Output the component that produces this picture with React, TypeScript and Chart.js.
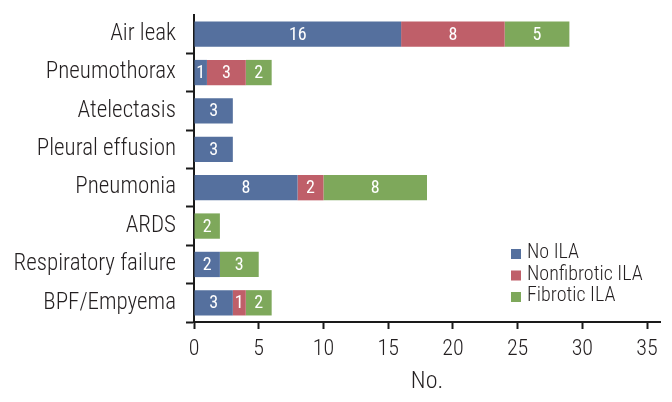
import React, { useEffect, useRef } from 'react';
import { Chart, registerables } from 'chart.js';

Chart.register(...registerables);

const categories = [
  'Air leak',
  'Pneumothorax',
  'Atelectasis',
  'Pleural effusion',
  'Pneumonia',
  'ARDS',
  'Respiratory failure',
  'BPF/Empyema',
];
const noILA = [16, 1, 3, 3, 8, 0, 2, 3];
const nonfibroticILA = [8, 3, 0, 0, 2, 0, 0, 1];
const fibroticILA = [5, 2, 0, 0, 8, 2, 3, 2];
const seriesNames = ['No ILA', 'Nonfibrotic ILA', 'Fibrotic ILA'];
const seriesColors = ['#55709e', '#bf5f69', '#7ea85b'];
const xTickValues = [0, 5, 10, 15, 20, 25, 30, 35];
const xAxisTitle = 'No.';

const FONT = "'Roboto Condensed', 'Open Sans', sans-serif";
const WEIGHT = '300';
const TEXT = '#231f20';

const barLabelPlugin = {
  id: 'barLabels',
  afterDatasetsDraw(chart: any) {
    const ctx = chart.ctx;
    ctx.save();
    ctx.fillStyle = '#ffffff';
    ctx.font = `400 18px ${FONT}`;
    ctx.textAlign = 'center';
    ctx.textBaseline = 'middle';
    chart.data.datasets.forEach((ds: any, di: number) => {
      const meta = chart.getDatasetMeta(di);
      meta.data.forEach((el: any, i: number) => {
        const v = ds.data[i];
        if (!v) return;
        const cx = (el.x + el.base) / 2;
        ctx.fillText(String(v), cx, el.y + 1);
      });
    });
    ctx.restore();
  },
};

const legendPlugin = {
  id: 'insideLegend',
  afterDraw(chart: any) {
    const ctx = chart.ctx;
    ctx.save();
    ctx.font = `${WEIGHT} 20px ${FONT}`;
    ctx.textAlign = 'left';
    ctx.textBaseline = 'middle';
    const x0 = 511;
    const y0 = 253;
    const step = 21.5;
    seriesNames.forEach((name, i) => {
      const y = y0 + i * step;
      ctx.fillStyle = seriesColors[i];
      ctx.fillRect(x0, y - 4, 10, 10);
      ctx.fillStyle = TEXT;
      ctx.fillText(name, x0 + 16, y);
    });
    ctx.restore();
  },
};

export default function App() {
  const canvasRef = useRef<HTMLCanvasElement | null>(null);

  useEffect(() => {
    if (!canvasRef.current) return;
    const chart = new Chart(canvasRef.current, {
      type: 'bar',
      data: {
        labels: categories,
        datasets: [
          { label: seriesNames[0], data: noILA, backgroundColor: seriesColors[0] },
          { label: seriesNames[1], data: nonfibroticILA, backgroundColor: seriesColors[1] },
          { label: seriesNames[2], data: fibroticILA, backgroundColor: seriesColors[2] },
        ],
      },
      options: {
        indexAxis: 'y',
        animation: false,
        responsive: false,
        maintainAspectRatio: false,
        layout: { padding: { top: 15, right: 12, left: 0, bottom: 0 } },
        datasets: {
          bar: { categoryPercentage: 1, barPercentage: 0.66, borderWidth: 0 },
        },
        plugins: {
          legend: { display: false },
          tooltip: { enabled: false },
        },
        scales: {
          x: {
            stacked: true,
            min: 0,
            max: 36,
            afterBuildTicks: (axis: any) => {
              axis.ticks = xTickValues.map((v) => ({ value: v }));
            },
            afterFit: (axis: any) => {
              axis.height = 80;
            },
            border: { display: true, color: '#1a1a1a', width: 2 },
            grid: {
              drawOnChartArea: false,
              drawTicks: true,
              tickLength: 7,
              tickWidth: 2,
              tickColor: '#1a1a1a',
            },
            ticks: {
              color: TEXT,
              font: { family: FONT, size: 22, weight: WEIGHT },
              padding: 7,
              maxRotation: 0,
              autoSkip: false,
            },
            title: {
              display: true,
              text: xAxisTitle,
              color: TEXT,
              font: { family: FONT, size: 24, weight: WEIGHT },
              padding: { top: 6, bottom: 6 },
            },
          },
          y: {
            stacked: true,
            offset: true,
            afterFit: (axis: any) => {
              axis.width = 194;
              axis.paddingTop = 0;
              axis.paddingBottom = 0;
            },
            border: { display: true, color: '#1a1a1a', width: 2 },
            grid: {
              offset: true,
              drawOnChartArea: false,
              drawTicks: true,
              tickLength: 8,
              tickWidth: 2,
              tickColor: (c: any) => (c.index === 0 ? 'rgba(0,0,0,0)' : '#1a1a1a'),
            },
            ticks: {
              color: TEXT,
              font: { family: FONT, size: 23, weight: WEIGHT },
              padding: 10,
              autoSkip: false,
            },
          },
        },
      },
      plugins: [barLabelPlugin, legendPlugin],
    } as any);
    return () => chart.destroy();
  }, []);

  return (
    <div style={{ position: 'fixed', left: 0, top: 0, width: 672, height: 402, background: '#ffffff' }}>
      <canvas ref={canvasRef} width={672} height={402} style={{ width: 672, height: 402, display: 'block' }} />
    </div>
  );
}
